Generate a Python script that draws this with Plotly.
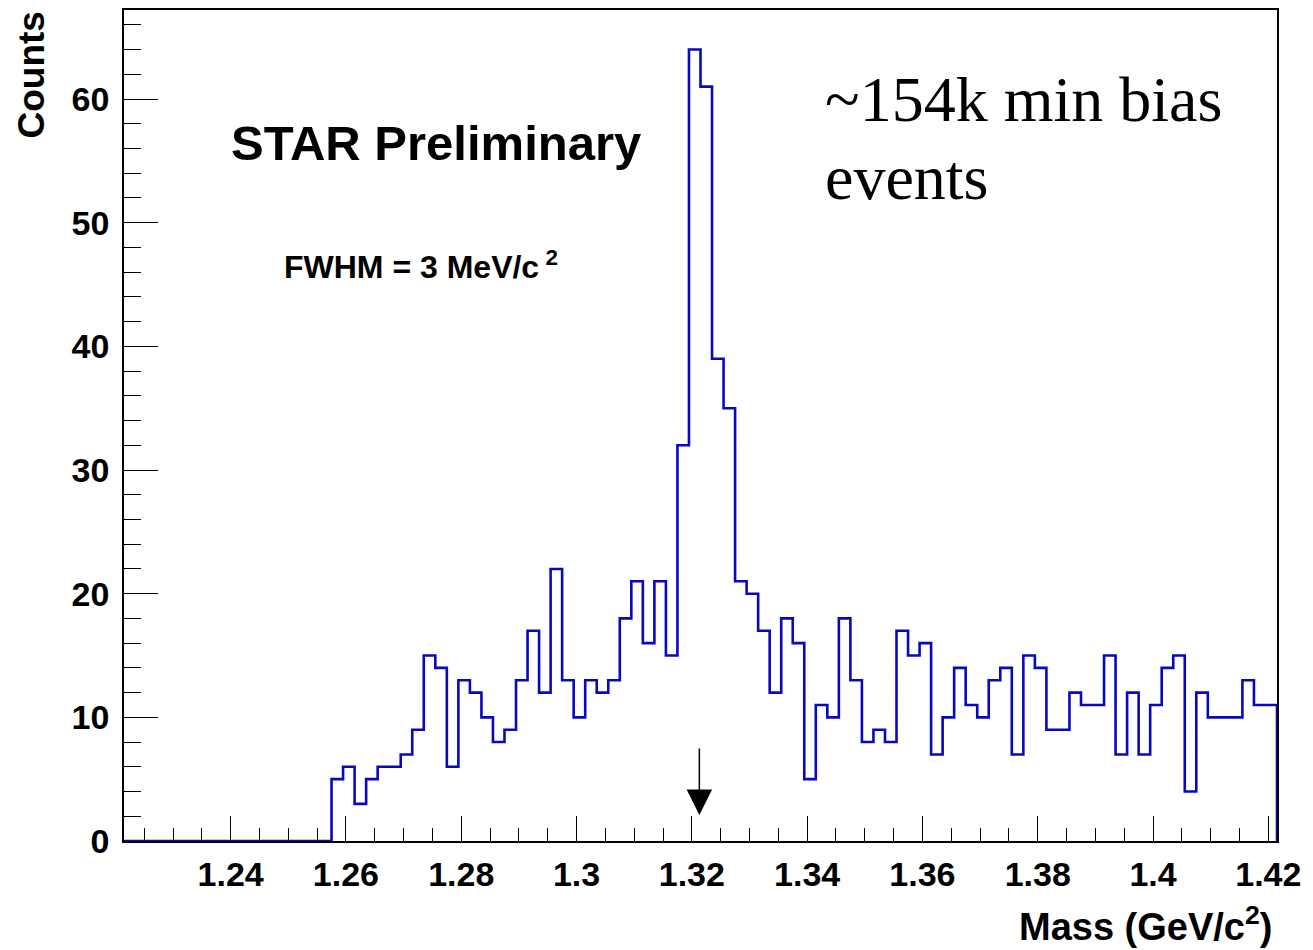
import numpy as np
import plotly.graph_objects as go

# ---- data ----
bin_start = 1.2215
bin_width = 0.002
counts = [0] * 18 + [
    5, 6, 3, 5, 6, 6, 7, 9, 15, 14,
    6, 13, 12, 10, 8, 9, 13, 17, 12, 22,
    13, 10, 13, 12, 13, 18, 21, 16, 21, 15,
    32, 64, 61, 39, 35, 21, 20, 17, 12, 18,
    16, 5, 11, 10, 18, 13, 8, 9, 8, 17,
    15, 16, 7, 10, 14, 11, 10, 13, 14, 7,
    15, 14, 9, 9, 12, 11, 11, 15, 7, 12,
    7, 11, 14, 15, 4, 12, 10, 10, 10, 13,
    11, 11,
]
x_tick_vals = [1.24, 1.26, 1.28, 1.30, 1.32, 1.34, 1.36, 1.38, 1.40, 1.42]
x_tick_text = ["1.24", "1.26", "1.28", "1.3", "1.32", "1.34", "1.36", "1.38", "1.4", "1.42"]
y_tick_vals = [0, 10, 20, 30, 40, 50, 60]
y_tick_text = ["0", "10", "20", "30", "40", "50", "60"]
x_range = [1.2215, 1.4215]
y_range = [0, 67.2]
xi_mass = 1.3213
arrow_from, arrow_to = 7.6, 2.1

# ---- stair outline built from bin edges ----
n = len(counts)
edges = bin_start + bin_width * np.arange(n + 1)
xs = list(edges) + [edges[-1]]
ys = list(counts) + [counts[-1], 0]

fig = go.Figure()
fig.add_trace(go.Scatter(
    x=xs, y=ys, mode="lines", line=dict(shape="hv", color="#0808c0", width=2.6),
    hoverinfo="skip", showlegend=False,
))

L, R, T, B = 124, 36, 8, 109
W, H = 1313, 950
pw, ph = W - L - R, H - T - B


def px(xp):
    return (xp - L) / pw


def py(yp):
    return (H - B - yp) / ph


bold = dict(family="Liberation Sans, Arial, Helvetica, sans-serif", color="black", weight="bold")
serif = dict(family="Liberation Serif, Times New Roman, serif", color="black")

fig.update_layout(
    width=W, height=H,
    margin=dict(l=L, r=R, t=T, b=B, pad=0),
    paper_bgcolor="white", plot_bgcolor="white",
    showlegend=False,
    xaxis=dict(
        range=x_range, showgrid=False, zeroline=False,
        showline=True, linecolor="black", linewidth=1.5, mirror=True,
        tickmode="array", tickvals=x_tick_vals, ticktext=x_tick_text,
        ticks="inside", ticklen=25, tickwidth=1.3, tickcolor="black",
        minor=dict(tickmode="linear", tick0=1.2, dtick=0.005, ticks="inside",
                   ticklen=13, tickwidth=1.3, tickcolor="black", showgrid=False),
        tickfont=dict(size=34, **bold),
        ticklabelstandoff=2,
        layer="below traces",
    ),
    yaxis=dict(
        range=y_range, showgrid=False, zeroline=False,
        showline=True, linecolor="black", linewidth=1.5, mirror=True,
        tickmode="array", tickvals=y_tick_vals, ticktext=y_tick_text,
        ticks="inside", ticklen=34, tickwidth=1.3, tickcolor="black",
        minor=dict(tickmode="linear", tick0=0, dtick=2, ticks="inside",
                   ticklen=17, tickwidth=1.3, tickcolor="black", showgrid=False),
        tickfont=dict(size=34, **bold),
        ticklabelstandoff=6,
        layer="below traces",
    ),
)

ann = [
    dict(text="Counts", textangle=-90, x=px(31), y=py(8), xanchor="center", yanchor="top",
         font=dict(size=37, **bold)),
    dict(text="STAR Preliminary", x=px(229), y=py(141), xanchor="left", yanchor="middle",
         font=dict(size=49, **bold)),
    dict(text="FWHM = 3 MeV/c<sup> 2</sup>", x=px(282), y=py(264), xanchor="left", yanchor="middle",
         font=dict(size=32, **bold)),
    dict(text="~154k min bias", x=px(823), y=py(98), xanchor="left", yanchor="middle",
         font=dict(size=64, **serif)),
    dict(text="events", x=px(823), y=py(176), xanchor="left", yanchor="middle",
         font=dict(size=64, **serif)),
    dict(text="Mass (GeV/c<sup>2</sup>)", x=px(1274), y=py(924), xanchor="right", yanchor="middle",
         font=dict(size=38, **bold)),
]
for a in ann:
    a.update(xref="paper", yref="paper", showarrow=False)
fig.update_layout(annotations=ann)

fig.add_annotation(
    x=xi_mass, y=arrow_to, ax=xi_mass, ay=arrow_from,
    xref="x", yref="y", axref="x", ayref="y",
    text="", showarrow=True, arrowhead=2, arrowsize=3.4, arrowwidth=1.5,
    arrowcolor="black", standoff=0,
)

fig.write_html("out.html")
